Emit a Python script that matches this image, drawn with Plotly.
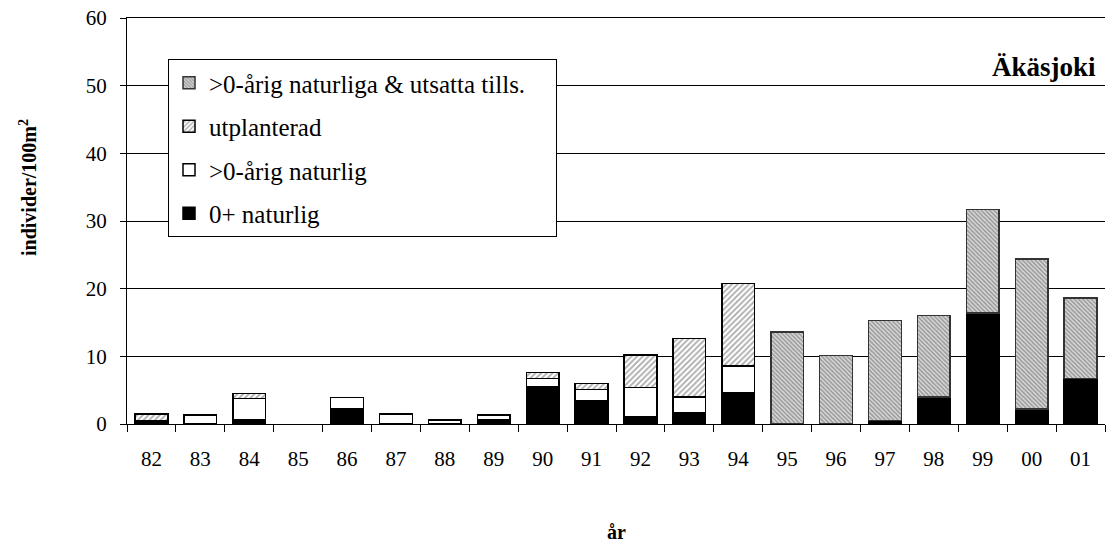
import plotly.graph_objects as go

years = ['82','83','84','85','86','87','88','89','90','91','92','93','94','95','96','97','98','99','00','01']
zero_plus_nat = [0.5,0.0,0.6,0,2.2,0,0,0.6,5.5,3.5,1.1,1.7,4.6,0,0,0.5,4.0,16.4,2.2,6.7]
older_nat =     [0,1.3,3.2,0,1.7,1.5,0.6,0.7,1.2,1.6,4.3,2.3,4.0,0,0,0,0,0,0,0]
stocked =       [1.0,0,0.7,0,0,0,0,0,0.9,0.9,4.8,8.6,12.2,0,0,0,0,0,0,0]
older_combined =[0,0,0,0,0,0,0,0,0,0,0,0,0,13.6,10.1,14.8,12.0,15.3,22.2,11.9]

names = ['0+ naturlig', '>0-årig naturlig', 'utplanterad', '>0-årig naturliga & utsatta tills.']

def nz(v):
    return [x if x else None for x in v]

FONT = 'Liberation Serif, Times New Roman, serif'
W, H = 1112, 547
L, T, R = 127, 18, 7
PLOT_BOTTOM = 424
B = H - PLOT_BOTTOM
PW = W - L - R
PH = PLOT_BOTTOM - T
PAD = '\u00a0' * 4  # widens the legend box to the reference's width

fig = go.Figure()
fig.add_bar(x=years, y=nz(zero_plus_nat), name=names[0], legendgroup='a', legendrank=4,
            marker=dict(color='black', line=dict(color='black', width=1.5)))
fig.add_bar(x=years, y=nz(older_nat), name=names[1], legendgroup='b', legendrank=3,
            marker=dict(color='white', line=dict(color='black', width=1.5)))
fig.add_bar(x=years, y=nz(stocked), name=names[2], legendgroup='c', legendrank=2,
            marker=dict(color='white', line=dict(color='black', width=1.5),
                        pattern=dict(shape='/', fgcolor='#555555', bgcolor='white', size=4, solidity=0.45)))
fig.add_bar(x=years, y=nz(older_combined), name=names[3] + PAD, legendgroup='d', legendrank=1,
            marker=dict(color='white', line=dict(color='#333333', width=1.5),
                        pattern=dict(shape='\\', fgcolor='#555555', bgcolor='#dadada', size=3, solidity=0.5)))

fig.update_layout(
    width=W, height=H,
    barmode='stack', bargap=0.33,
    paper_bgcolor='white', plot_bgcolor='white',
    margin=dict(l=L, r=R, t=T, b=B, autoexpand=False),
    font=dict(family=FONT, size=21, color='black'),
    showlegend=True,
    legend=dict(x=(168 - L) / PW, y=(PLOT_BOTTOM - 59) / PH, xanchor='left', yanchor='top',
                traceorder='grouped', bordercolor='black', borderwidth=1,
                bgcolor='white', font=dict(family=FONT, size=25),
                tracegroupgap=8),
    xaxis=dict(type='category', showline=True, linecolor='black', linewidth=1, mirror=True,
               ticks='outside', ticklen=7, tickcolor='black', tickson='boundaries',
               ticklabelstandoff=16, tickfont=dict(family=FONT, size=21),
               showgrid=False),
    yaxis=dict(range=[0, 60], dtick=10, showline=True, linecolor='black', linewidth=1,
               ticks='outside', ticklen=6, tickcolor='black',
               showgrid=True, gridcolor='black', gridwidth=1,
               tickfont=dict(family=FONT, size=21), ticklabelstandoff=9,
               ticklabeloverflow='allow', zeroline=False),
    annotations=[
        dict(text='<b>Äkäsjoki</b>', x=(1098 - L) / PW, y=(PLOT_BOTTOM - 67) / PH,
             xref='paper', yref='paper', xanchor='right', yanchor='middle', showarrow=False,
             font=dict(family=FONT, size=27)),
        dict(text='<b>år</b>', x=0.5, y=-(532 - PLOT_BOTTOM) / PH, xref='paper', yref='paper',
             xanchor='center', yanchor='middle', showarrow=False, font=dict(family=FONT, size=20)),
        dict(text='<b>individer/100m<sup>2</sup></b>', x=-(L - 28) / PW, y=(PLOT_BOTTOM - 188) / PH,
             xref='paper', yref='paper', xanchor='center', yanchor='middle',
             textangle=-90, showarrow=False, font=dict(family=FONT, size=20)),
    ],
)

fig.write_html('out.html', config={'displayModeBar': False},
               post_script="document.body.style.margin='0';")
